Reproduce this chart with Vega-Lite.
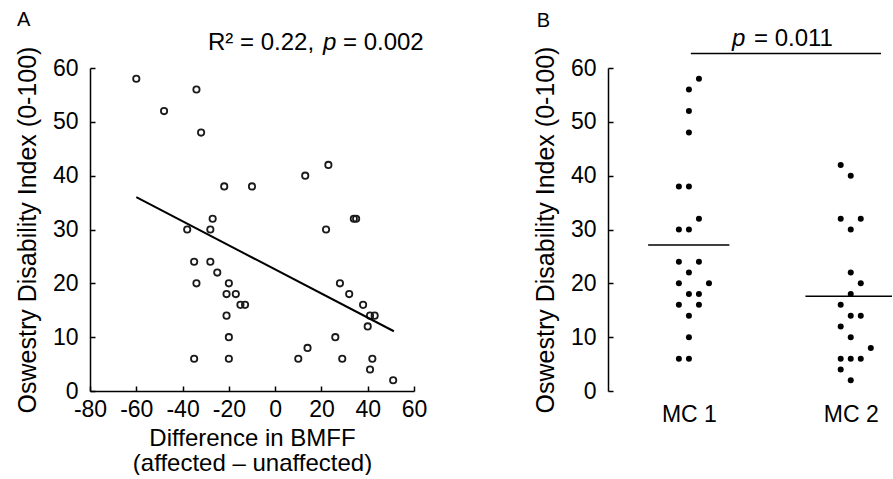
{
  "$schema": "https://vega.github.io/schema/vega-lite/v6.json",
  "background": "white",
  "padding": {"left": 15, "top": 10, "right": 0, "bottom": 0},
  "spacing": 106,
  "config": {
    "view": {"stroke": null},
    "font": "Liberation Sans",
    "axis": {
      "domainColor": "black",
      "tickColor": "black",
      "labelColor": "black",
      "titleColor": "black",
      "labelFont": "Liberation Sans",
      "titleFont": "Liberation Sans",
      "labelFontSize": 23,
      "titleFontSize": 25,
      "titleFontWeight": "normal",
      "grid": false,
      "tickSize": -5,
      "domainWidth": 1.5,
      "tickWidth": 1.5,
      "labelOverlap": false,
      "labelFlush": false
    }
  },
  "datasets": {
    "scatter": [
      {"bmff": -60, "odi": 58}, {"bmff": -34, "odi": 56}, {"bmff": -48, "odi": 52}, {"bmff": -32, "odi": 48},
      {"bmff": 23, "odi": 42}, {"bmff": 13, "odi": 40}, {"bmff": -22, "odi": 38}, {"bmff": -10, "odi": 38},
      {"bmff": -27, "odi": 32}, {"bmff": -38, "odi": 30}, {"bmff": -28, "odi": 30}, {"bmff": 22, "odi": 30},
      {"bmff": 34, "odi": 32}, {"bmff": 35, "odi": 32}, {"bmff": -35, "odi": 24}, {"bmff": -28, "odi": 24},
      {"bmff": -25, "odi": 22}, {"bmff": -34, "odi": 20}, {"bmff": -20, "odi": 20}, {"bmff": -21, "odi": 18},
      {"bmff": -17, "odi": 18}, {"bmff": -15, "odi": 16}, {"bmff": -13, "odi": 16}, {"bmff": -21, "odi": 14},
      {"bmff": -20, "odi": 10}, {"bmff": -35, "odi": 6}, {"bmff": -20, "odi": 6}, {"bmff": 10, "odi": 6},
      {"bmff": 14, "odi": 8}, {"bmff": 28, "odi": 20}, {"bmff": 32, "odi": 18}, {"bmff": 38, "odi": 16},
      {"bmff": 41, "odi": 14}, {"bmff": 43, "odi": 14}, {"bmff": 40, "odi": 12}, {"bmff": 26, "odi": 10},
      {"bmff": 29, "odi": 6}, {"bmff": 42, "odi": 6}, {"bmff": 41, "odi": 4}, {"bmff": 51, "odi": 2}
    ],
    "fit": [
      {"bmff": -60, "odi": 36.0}, {"bmff": 51.3, "odi": 11.1}
    ],
    "dots": [
      {"group": "MC 1", "x": 1.062, "odi": 58}, {"group": "MC 1", "x": 1, "odi": 56}, {"group": "MC 1", "x": 1, "odi": 52},
      {"group": "MC 1", "x": 1, "odi": 48}, {"group": "MC 1", "x": 0.938, "odi": 38}, {"group": "MC 1", "x": 1, "odi": 38},
      {"group": "MC 1", "x": 1.062, "odi": 32}, {"group": "MC 1", "x": 0.938, "odi": 30}, {"group": "MC 1", "x": 1, "odi": 30},
      {"group": "MC 1", "x": 0.938, "odi": 24}, {"group": "MC 1", "x": 1.062, "odi": 24}, {"group": "MC 1", "x": 1, "odi": 22},
      {"group": "MC 1", "x": 0.938, "odi": 20}, {"group": "MC 1", "x": 1.124, "odi": 20}, {"group": "MC 1", "x": 1, "odi": 18},
      {"group": "MC 1", "x": 1.062, "odi": 18}, {"group": "MC 1", "x": 0.938, "odi": 16}, {"group": "MC 1", "x": 1.062, "odi": 16},
      {"group": "MC 1", "x": 1, "odi": 14}, {"group": "MC 1", "x": 1, "odi": 10}, {"group": "MC 1", "x": 0.938, "odi": 6},
      {"group": "MC 1", "x": 1, "odi": 6},
      {"group": "MC 2", "x": 1.938, "odi": 42}, {"group": "MC 2", "x": 2, "odi": 40}, {"group": "MC 2", "x": 1.938, "odi": 32},
      {"group": "MC 2", "x": 2.062, "odi": 32}, {"group": "MC 2", "x": 2, "odi": 30}, {"group": "MC 2", "x": 2, "odi": 22},
      {"group": "MC 2", "x": 2.062, "odi": 20}, {"group": "MC 2", "x": 2, "odi": 18}, {"group": "MC 2", "x": 1.938, "odi": 16},
      {"group": "MC 2", "x": 2, "odi": 14}, {"group": "MC 2", "x": 2.062, "odi": 14}, {"group": "MC 2", "x": 1.938, "odi": 12},
      {"group": "MC 2", "x": 2, "odi": 10}, {"group": "MC 2", "x": 2.124, "odi": 8}, {"group": "MC 2", "x": 1.938, "odi": 6},
      {"group": "MC 2", "x": 2, "odi": 6}, {"group": "MC 2", "x": 2.062, "odi": 6}, {"group": "MC 2", "x": 1.938, "odi": 4},
      {"group": "MC 2", "x": 2, "odi": 2}
    ],
    "means": [
      {"group": "MC 1", "x": 0.748, "x2": 1.25, "mean": 27.1},
      {"group": "MC 2", "x": 1.72, "x2": 2.255, "mean": 17.6}
    ],
    "compare": [
      {"x": 1.012, "x2": 2.187, "level": 62.7}
    ]
  },
  "hconcat": [
    {
      "width": 324,
      "height": 323,
      "layer": [
        {
          "data": {"name": "scatter"},
          "mark": {"type": "point", "shape": "circle", "filled": false, "color": "#1a1a1a", "size": 40, "strokeWidth": 1.8, "opacity": 1},
          "encoding": {
            "x": {
              "field": "bmff", "type": "quantitative",
              "scale": {"domain": [-80, 60], "nice": false, "zero": false},
              "axis": {
                "values": [-80, -60, -40, -20, 0, 20, 40, 60],
                "labelExpr": "replace(datum.label, '\u2212', '-')",
                "title": ["Difference in BMFF", "(affected \u2013 unaffected)"],
                "titleFontSize": 24,
                "titleLineHeight": 25,
                "labelPadding": 12,
                "titlePadding": 5
              }
            },
            "y": {
              "field": "odi", "type": "quantitative",
              "scale": {"domain": [0, 60], "nice": false},
              "axis": {
                "values": [0, 10, 20, 30, 40, 50, 60],
                "title": "Oswestry Disability Index (0-100)",
                "labelPadding": 17,
                "titlePadding": 12
              }
            }
          }
        },
        {
          "data": {"name": "fit"},
          "mark": {"type": "line", "color": "black", "strokeWidth": 2},
          "encoding": {
            "x": {"field": "bmff", "type": "quantitative"},
            "y": {"field": "odi", "type": "quantitative"}
          }
        },
        {
          "data": {"values": [{}]},
          "mark": {"type": "text", "text": "A", "fontSize": 20, "align": "left", "baseline": "alphabetic", "color": "black"},
          "encoding": {"x": {"datum": -111.5}, "y": {"datum": 67.8}}
        },
        {
          "data": {"values": [{}]},
          "mark": {"type": "text", "text": "R\u00b2 = 0.22,", "fontSize": 24, "align": "left", "baseline": "alphabetic", "color": "black"},
          "encoding": {"x": {"datum": -29}, "y": {"datum": 63.35}}
        },
        {
          "data": {"values": [{}]},
          "mark": {"type": "text", "text": "p", "fontSize": 24, "fontStyle": "italic", "align": "left", "baseline": "alphabetic", "color": "black"},
          "encoding": {"x": {"datum": 20.7}, "y": {"datum": 63.35}}
        },
        {
          "data": {"values": [{}]},
          "mark": {"type": "text", "text": "= 0.002", "fontSize": 24, "align": "left", "baseline": "alphabetic", "color": "black"},
          "encoding": {"x": {"datum": 29.3}, "y": {"datum": 63.35}}
        }
      ]
    },
    {
      "width": 284,
      "height": 323,
      "layer": [
        {
          "data": {"name": "dots"},
          "mark": {"type": "circle", "color": "black", "size": 36, "opacity": 1},
          "encoding": {
            "x": {
              "field": "x", "type": "quantitative",
              "scale": {"domain": [0.5, 2.255], "nice": false, "zero": false},
              "axis": {
                "values": [1, 2],
                "labelExpr": "datum.value == 1 ? 'MC 1' : 'MC 2'",
                "domain": false,
                "ticks": false,
                "labelPadding": 12,
                "title": null
              }
            },
            "y": {
              "field": "odi", "type": "quantitative",
              "scale": {"domain": [0, 60], "nice": false},
              "axis": {
                "values": [0, 10, 20, 30, 40, 50, 60],
                "title": "Oswestry Disability Index (0-100)",
                "labelPadding": 17,
                "titlePadding": 12
              }
            }
          }
        },
        {
          "data": {"name": "means"},
          "mark": {"type": "rule", "color": "black", "strokeWidth": 1.5},
          "encoding": {
            "x": {"field": "x", "type": "quantitative"},
            "x2": {"field": "x2"},
            "y": {"field": "mean", "type": "quantitative"}
          }
        },
        {
          "data": {"name": "compare"},
          "mark": {"type": "rule", "color": "black", "strokeWidth": 1.5},
          "encoding": {
            "x": {"field": "x", "type": "quantitative"},
            "x2": {"field": "x2"},
            "y": {"field": "level", "type": "quantitative"}
          }
        },
        {
          "data": {"values": [{}]},
          "mark": {"type": "text", "text": "B", "fontSize": 20, "align": "left", "baseline": "alphabetic", "color": "black"},
          "encoding": {"x": {"datum": 0.06}, "y": {"datum": 67.6}}
        },
        {
          "data": {"values": [{}]},
          "mark": {"type": "text", "text": "p", "fontSize": 24, "fontStyle": "italic", "align": "left", "baseline": "alphabetic", "color": "black"},
          "encoding": {"x": {"datum": 1.266}, "y": {"datum": 64.15}}
        },
        {
          "data": {"values": [{}]},
          "mark": {"type": "text", "text": "= 0.011", "fontSize": 24, "align": "left", "baseline": "alphabetic", "color": "black"},
          "encoding": {"x": {"datum": 1.402}, "y": {"datum": 64.15}}
        }
      ]
    }
  ]
}
